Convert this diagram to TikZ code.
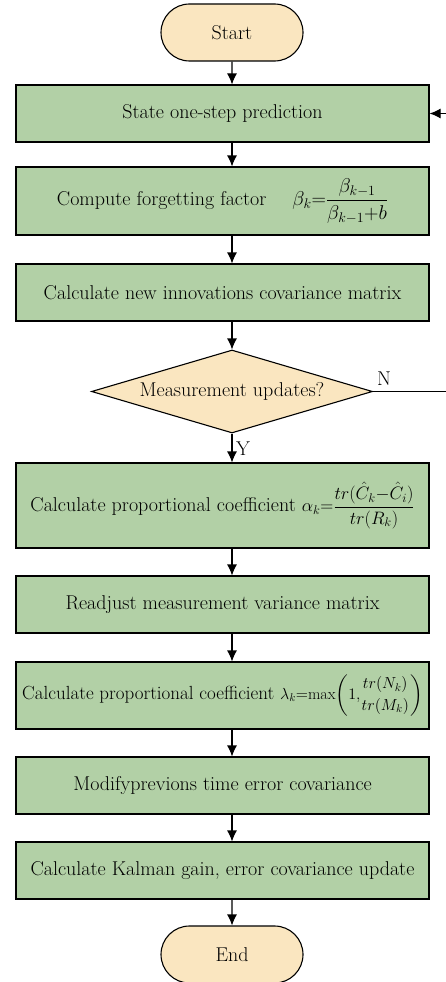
\documentclass[tikz,border=0pt]{standalone}
\usepackage{amsmath}
\usepackage{fix-cm}
\usepackage{fontspec}
\usetikzlibrary{shapes.geometric,shapes.misc,arrows.meta}
\definecolor{procgreen}{RGB}{178,208,166}
\definecolor{termtan}{RGB}{250,230,192}
\tikzset{
  terminal/.style={rounded rectangle, draw, line width=1.1pt, fill=termtan, minimum width=142pt, minimum height=57pt, inner sep=0pt},
  process/.style={rectangle, draw, line width=1.1pt, fill=procgreen, minimum width=413pt, inner sep=0pt},
  decision/.style={diamond, draw, line width=1.1pt, fill=termtan, aspect=3.4, minimum width=281pt, minimum height=83pt, inner sep=0pt},
  flowarrow/.style={line width=1.1pt, -{Latex[length=11pt,width=10pt]}}
}

\begin{document}
\begin{tikzpicture}[x=1pt, y=-1pt, font=\fontsize{20}{23}\selectfont]
  \useasboundingbox (0,0) rectangle (446,982);

  \node[terminal] (start) at (232,32.5) {Start};
  \node[process, minimum height=57pt] (predict) at (222.5,113.5) {State one-step prediction};
  \node[process, minimum height=68pt] (forget) at (222.5,201)
    {Compute forgetting factor \quad$\beta_k{=}\dfrac{\beta_{k-1}}{\beta_{k-1}{+}b}$};
  \node[process, minimum height=57pt] (innov) at (222.5,292.5) {Calculate new innovations covariance matrix};
  \node[decision] (update) at (232,391.5) {Measurement updates?};
  \node[process, minimum height=85pt] (alpha) at (222.5,505.5)
    {Calculate proportional coefficient {\fontsize{18}{20}\selectfont$\alpha_k{=}\dfrac{tr(\hat{C}_k{-}\hat{C}_i)}{tr(R_k)}$}};
  \node[process, minimum height=57pt] (readjust) at (222.5,604.5) {Readjust measurement variance matrix};
  \node[process, minimum height=67pt, font=\fontsize{19}{22}\selectfont] (lambda) at (222.5,695.5)
    {Calculate proportional coefficient {\fontsize{16}{18}\selectfont$\lambda_k{=}\mathrm{max}\!\left(1{,}\genfrac{}{}{0pt}{0}{tr(N_k)}{tr(M_k)}\right)$}};
  \node[process, minimum height=57pt] (modify) at (222.5,785.5) {Modifyprevions time error covariance};
  \node[process, minimum height=57pt] (kalman) at (222.5,870.5) {Calculate Kalman gain, error covariance update};
  \node[terminal] (end) at (232,954.5) {End};

  \node (no) at (384,379) {N};
  \node (yes) at (243,449) {Y};
  \coordinate (loop) at (470,391.5);

  \draw[flowarrow] (start) -- (start |- predict.north);
  \draw[flowarrow] (start |- predict.south) -- (start |- forget.north);
  \draw[flowarrow] (start |- forget.south) -- (start |- innov.north);
  \draw[flowarrow] (start |- innov.south) -- (update);
  \draw[flowarrow] (update) -- (start |- alpha.north);
  \draw[flowarrow] (start |- alpha.south) -- (start |- readjust.north);
  \draw[flowarrow] (start |- readjust.south) -- (start |- lambda.north);
  \draw[flowarrow] (start |- lambda.south) -- (start |- modify.north);
  \draw[flowarrow] (start |- modify.south) -- (start |- kalman.north);
  \draw[flowarrow] (start |- kalman.south) -- (end);
  \draw[flowarrow] (update.east) -- (loop) |- (predict.east);
\end{tikzpicture}
\end{document}
